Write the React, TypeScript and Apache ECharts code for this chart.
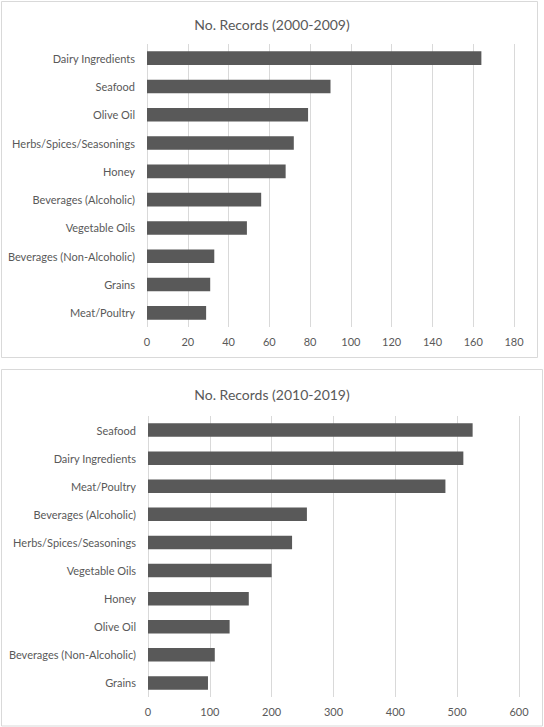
import React, { useEffect, useRef } from 'react'
import * as echarts from 'echarts'

// 2000-2009 panel
const categories2000 = [
  'Dairy Ingredients',
  'Seafood',
  'Olive Oil',
  'Herbs/Spices/Seasonings',
  'Honey',
  'Beverages (Alcoholic)',
  'Vegetable Oils',
  'Beverages (Non-Alcoholic)',
  'Grains',
  'Meat/Poultry',
]
const values2000 = [164, 90, 79, 72, 68, 56, 49, 33, 31, 29]

// 2010-2019 panel
const categories2010 = [
  'Seafood',
  'Dairy Ingredients',
  'Meat/Poultry',
  'Beverages (Alcoholic)',
  'Herbs/Spices/Seasonings',
  'Vegetable Oils',
  'Honey',
  'Olive Oil',
  'Beverages (Non-Alcoholic)',
  'Grains',
]
const values2010 = [525, 510, 481, 257, 233, 200, 163, 132, 108, 97]

const titles = ['No. Records (2000-2009)', 'No. Records (2010-2019)']

const FONT = 'Lato, "Open Sans", sans-serif'
const TEXT = '#595959'
const GRID = '#d9d9d9'
const BAR = '#595959'

export default function App() {
  const chartRef = useRef<HTMLDivElement>(null)

  useEffect(() => {
    if (!chartRef.current) return
    const chart = echarts.init(chartRef.current, undefined, { renderer: 'svg' })

    const valueAxis = (gridIndex: number, max: number, interval: number) => ({
      type: 'value' as const,
      gridIndex,
      min: 0,
      max,
      interval,
      axisLine: { show: false },
      axisTick: { show: false },
      axisLabel: { color: TEXT, fontSize: 11, fontFamily: FONT, margin: 9 },
      splitLine: { show: true, lineStyle: { color: GRID, width: 1 } },
    })

    const catAxis = (gridIndex: number, data: string[]) => ({
      type: 'category' as const,
      gridIndex,
      data,
      inverse: true,
      axisLine: { show: false },
      axisTick: { show: false },
      axisLabel: { color: TEXT, fontSize: 11, fontFamily: FONT, margin: 12 },
      splitLine: { show: false },
    })

    const option: echarts.EChartsOption = {
      animation: false,
      backgroundColor: '#ffffff',
      title: [
        {
          text: titles[0],
          left: 'center',
          top: 12,
          textStyle: { color: TEXT, fontSize: 14, fontWeight: 'normal', fontFamily: FONT },
        },
        {
          text: titles[1],
          left: 'center',
          top: 382,
          textStyle: { color: TEXT, fontSize: 14, fontWeight: 'normal', fontFamily: FONT },
        },
      ],
      graphic: [
        {
          type: 'rect',
          shape: { x: 1.5, y: 1.5, width: 536, height: 356 },
          style: { fill: 'none', stroke: GRID, lineWidth: 1 },
          z: -1,
        },
        {
          type: 'rect',
          shape: { x: 1.5, y: 369.5, width: 541, height: 356.5 },
          style: { fill: 'none', stroke: GRID, lineWidth: 1 },
          z: -1,
        },
      ],
      grid: [
        { left: 147, top: 44, width: 367, height: 283, containLabel: false },
        { left: 148, top: 416, width: 371, height: 281, containLabel: false },
      ],
      xAxis: [valueAxis(0, 180, 20), valueAxis(1, 600, 100)],
      yAxis: [catAxis(0, categories2000), catAxis(1, categories2010)],
      series: [
        {
          type: 'bar',
          xAxisIndex: 0,
          yAxisIndex: 0,
          data: values2000,
          barCategoryGap: '52%',
          itemStyle: { color: BAR },
        },
        {
          type: 'bar',
          xAxisIndex: 1,
          yAxisIndex: 1,
          data: values2010,
          barCategoryGap: '52%',
          itemStyle: { color: BAR },
        },
      ],
    }

    chart.setOption(option)
    return () => {
      chart.dispose()
    }
  }, [])

  return (
    <div
      ref={chartRef}
      style={{ position: 'absolute', left: 0, top: 0, width: 544, height: 727 }}
    />
  )
}
